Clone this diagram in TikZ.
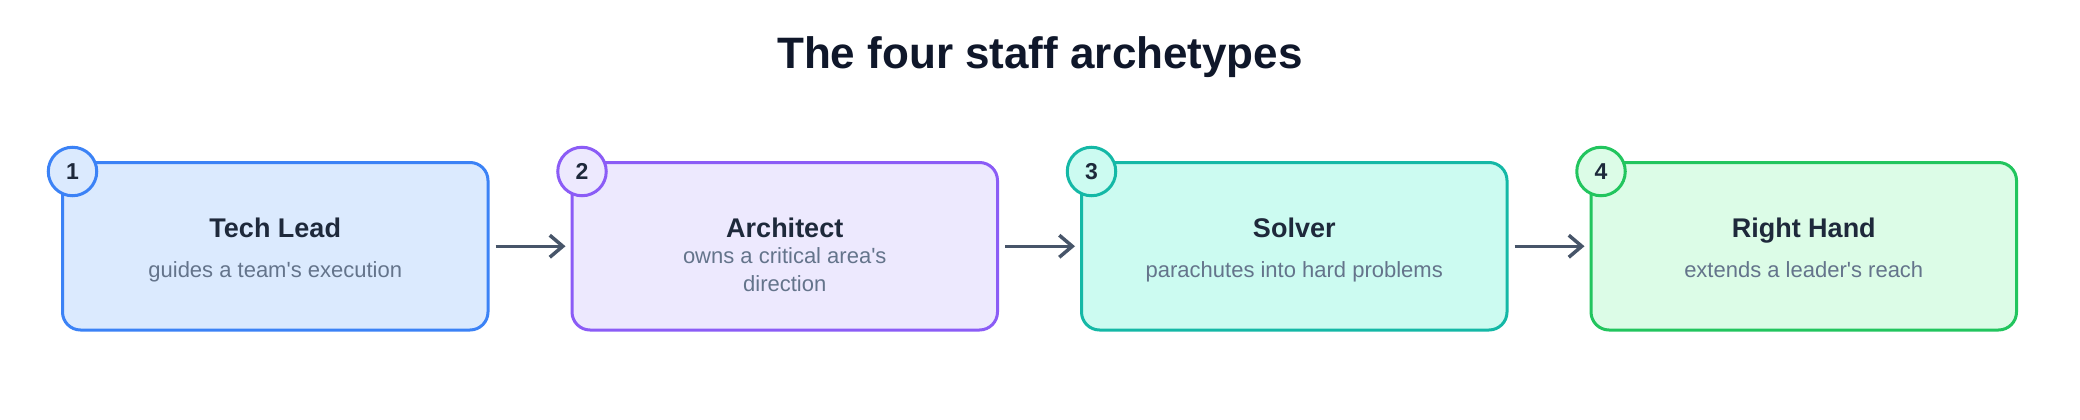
\documentclass[tikz,border=0pt]{standalone}
\usepackage{fontspec}
\setmainfont{Liberation Sans}
\usetikzlibrary{arrows.meta}
\definecolor{strokeA}{HTML}{3B82F6}\definecolor{fillA}{HTML}{DBEAFE}
\definecolor{strokeB}{HTML}{8B5CF6}\definecolor{fillB}{HTML}{EDE9FE}
\definecolor{strokeC}{HTML}{14B8A6}\definecolor{fillC}{HTML}{CCFBF1}
\definecolor{strokeD}{HTML}{22C55E}\definecolor{fillD}{HTML}{DCFCE7}
\definecolor{titlecol}{HTML}{0F172A}
\definecolor{headcol}{HTML}{1E293B}
\definecolor{desccol}{HTML}{64748B}
\definecolor{arrcol}{HTML}{475569}
\tikzset{
  card/.style={rectangle, rounded corners=18pt, line width=3pt, minimum width=425.5pt, minimum height=167.5pt, inner sep=0pt},
  badge/.style={circle, line width=3pt, minimum size=48.5pt, inner sep=0pt, font=\fontsize{23}{26}\selectfont\bfseries, text=headcol},
  headtext/.style={anchor=base, inner sep=0pt, font=\fontsize{27}{32}\selectfont\bfseries, text=headcol},
  desctext/.style={anchor=base, inner sep=0pt, align=center, font=\fontsize{22}{28}\selectfont, text=desccol},
  flow/.style={draw=arrcol, line width=3.5pt, -{Straight Barb[length=13pt,width=22pt,line width=3.5pt]}, shorten <=6pt, shorten >=5pt}
}
\begin{document}
\begin{tikzpicture}[x=1pt,y=-1pt]
\useasboundingbox[fill=white] (0,0) rectangle (2080,420);
\node[anchor=base, inner sep=0pt, font=\fontsize{44}{50}\selectfont\bfseries, text=titlecol] (title) at (1040,68) {The four staff archetypes};

\node[card, draw=strokeA, fill=fillA] (b1) at (275.25,246.25) {};
\node[card, draw=strokeB, fill=fillB] (b2) at (784.75,246.25) {};
\node[card, draw=strokeC, fill=fillC] (b3) at (1294.25,246.25) {};
\node[card, draw=strokeD, fill=fillD] (b4) at (1803.75,246.25) {};

\node[badge, draw=strokeA, fill=fillA] (n1) at (72.5,171.5) {1};
\node[badge, draw=strokeB, fill=fillB] (n2) at (582,171.5) {2};
\node[badge, draw=strokeC, fill=fillC] (n3) at (1091.5,171.5) {3};
\node[badge, draw=strokeD, fill=fillD] (n4) at (1601,171.5) {4};

\node[headtext] (h1) at (275.25,237) {Tech Lead};
\node[headtext] (h2) at (784.75,237) {Architect};
\node[headtext] (h3) at (1294.25,237) {Solver};
\node[headtext] (h4) at (1803.75,237) {Right Hand};

\node[desctext] (d1) at (275.25,277) {guides a team\textquotesingle s execution};
\node[desctext] (d2) at (784.75,291) {owns a critical area\textquotesingle s\\direction};
\node[desctext] (d3) at (1294.25,277) {parachutes into hard problems};
\node[desctext] (d4) at (1803.75,277) {extends a leader\textquotesingle s reach};

\draw[flow] (b1.east) -- (b2.west);
\draw[flow] (b2.east) -- (b3.west);
\draw[flow] (b3.east) -- (b4.west);
\end{tikzpicture}
\end{document}
